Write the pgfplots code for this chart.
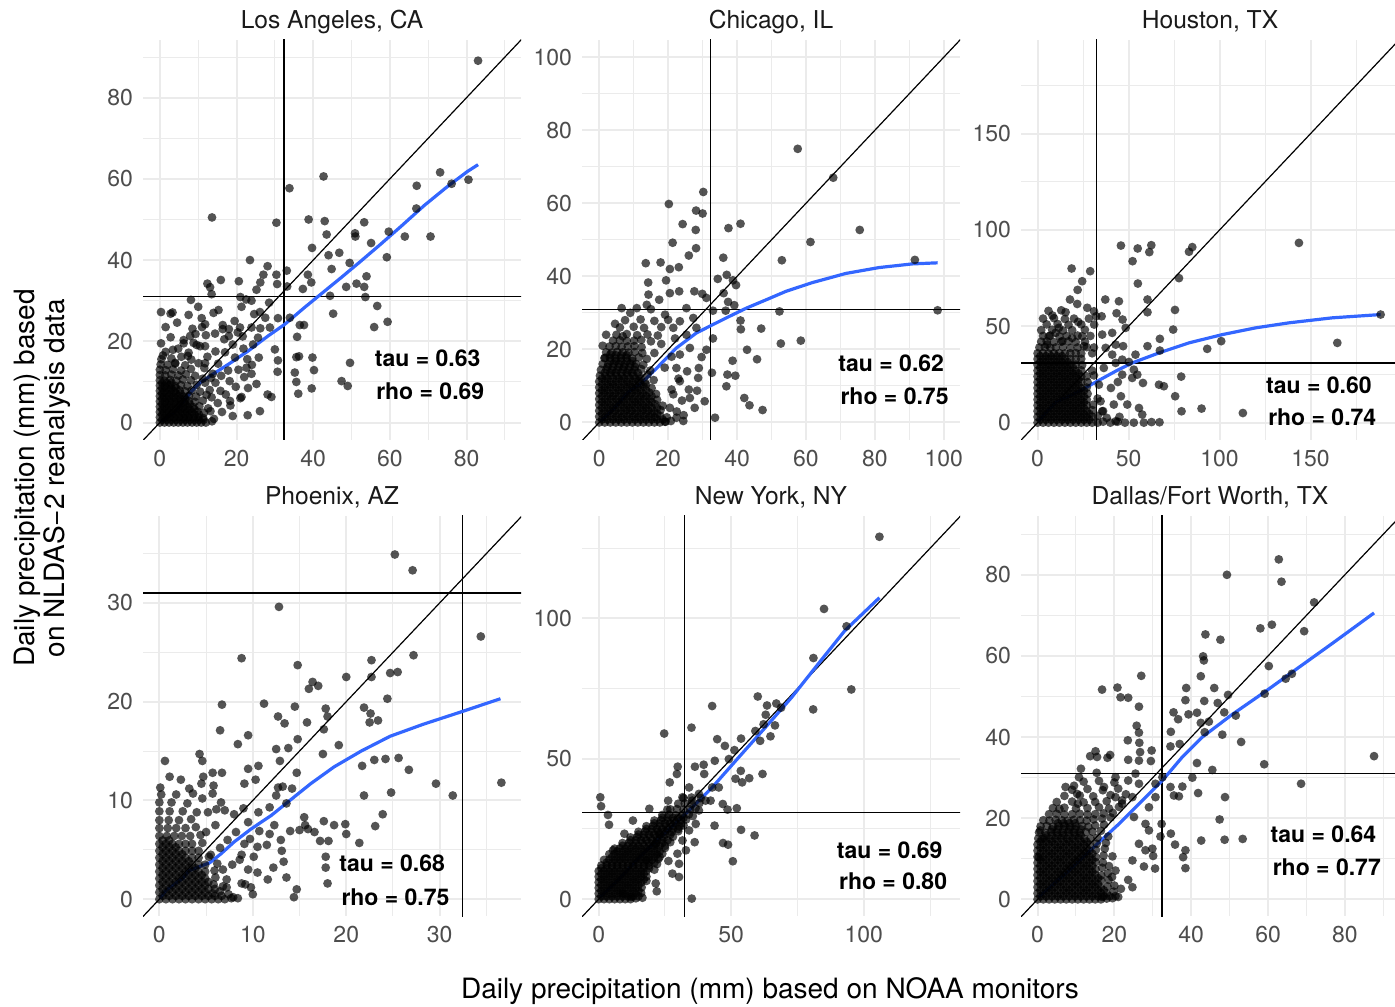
\documentclass[border=0pt]{standalone}
\usepackage{fontspec}
\setmainfont{TeX Gyre Heros}
\usepackage{pgfplots}
\pgfplotsset{compat=1.18}
\definecolor{gridc}{HTML}{EBEBEB}
\definecolor{tickc}{HTML}{4D4D4D}
\definecolor{stripc}{HTML}{1A1A1A}
\definecolor{smoothc}{HTML}{3366FF}
\pgfplotsset{
  facet/.style={
    scale only axis, width=189pt, height=200pt, anchor=south west,
    axis line style={draw=none}, tick style={draw=none},
    major tick length=0pt, minor tick length=0pt,
    grid=both, minor tick num=1,
    major grid style={gridc, line width=1pt},
    minor grid style={gridc, line width=0.5pt},
    tick label style={font=\fontsize{11.5}{13}\selectfont, text=tickc},
    /pgf/number format/assume math mode=true,
    xticklabel style={yshift=-1.5pt}, yticklabel style={xshift=-1.5pt},
    every axis title shift=0pt,
    title style={font=\fontsize{12.3}{14}\selectfont, text=stripc, at={(0.5,1)}, anchor=base, yshift=5.5pt},
  },
  pts/.style={only marks, mark=*, mark size=2.2pt, mark options={draw opacity=0, fill=black, fill opacity=0.67}},
  refl/.style={black, line width=0.6pt, no marks},
  sm/.style={smoothc, line width=1.6pt, no marks},
}
\tikzset{ann/.style={font=\bfseries\fontsize{11.5}{13}\selectfont, anchor=center, inner sep=0pt}}
\begin{document}
\begin{tikzpicture}
\useasboundingbox (0,0) rectangle (697.5pt,503pt);
% ---------------- Los Angeles
\begin{axis}[facet, at={(71.5pt,283pt)}, xmin=-4.4, xmax=94.2, ymin=-4.3, ymax=94.2,
  xtick={0,20,...,100}, ytick={0,20,...,100}, title={Los Angeles, CA}]
\addplot[pts] coordinates {
(83.0,89.1) (42.7,60.6) (33.8,57.7) (13.6,50.5) (30.4,49.2) (38.8,50.0) (43.0,49.6) (43.5,46.3) (53.3,49.3) (50.9,46.6) (51.0,45.8) (59.7,47.0) (63.9,45.8) (70.6,45.8) (55.1,44.2) (67.0,58.3) (73.1,61.6) (76.1,58.8) (80.5,59.8) (66.9,52.7) (39.7,43.0) (44.0,41.2) (46.8,41.8) (59.2,40.7) (49.5,39.3) (44.8,37.8) (53.9,36.0) (51.3,34.2) (48.6,33.4) (53.3,33.4) (53.6,30.9) (44.4,31.2) (56.7,28.7) (59.4,24.8) (55.9,23.5) (45.2,26.8) (38.6,36.4) (39.5,34.5) (37.3,32.9) (33.1,37.4) (33.2,33.5) (30.6,34.1) (30.4,36.4) (28.1,38.5) (27.0,36.4) (26.2,34.5) (23.5,40.0) (20.6,34.8) (15.9,35.1) (12.4,34.2) (13.1,33.3) (13.5,31.6) (8.1,30.2) (0.3,27.2) (2.8,26.8) (25.2,32.7) (22.5,30.3) (21.0,30.9) (21.3,28.5) (23.9,30.0) (24.6,26.7) (26.1,27.2) (28.5,29.5) (27.5,25.8) (30.8,25.7) (33.9,25.8) (15.3,27.7) (10.9,25.7) (11.8,24.2) (8.5,23.1) (7.9,21.3) (14.4,21.9) (16.4,23.0) (18.0,23.0) (18.0,21.3) (20.9,23.4) (21.6,21.2) (23.9,23.4) (25.6,20.9) (28.7,23.4) (36.5,24.0) (37.6,24.0) (35.8,21.1) (30.0,18.0) (30.8,15.3) (30.7,12.5) (35.6,16.1) (36.3,16.3) (39.8,16.0) (40.2,12.9) (49.6,14.7) (35.2,12.3) (35.6,10.0) (39.6,8.4) (36.1,7.1) (47.4,10.2) (49.0,9.0) (25.8,16.0) (22.6,13.5) (23.9,12.0) (25.2,9.5) (28.1,6.9) (29.1,6.3) (26.1,2.8) (22.9,1.8) (21.3,6.3) (18.3,5.3) (3.4,17.9) (0.8,16.5) (4.0,14.7) (6.2,19.5) (9.6,19.1) (11.8,18.8) (7.3,16.4)
(0,0) (1.2,0) (2.4,0) (3.6,0) (4.8,0) (6,0) (7.2,0) (8.4,0) (9.6,0) (10.8,0) (12,0) (13.6,0.3)
(0,1.3) (1.3,1.2) (2.5,1.3) (3.7,1.2) (5,1.3) (6.2,1.2) (7.4,1.3) (8.7,1.2) (10,1.3) (11.3,1.1)
(0,2.6) (1.1,2.5) (2.3,2.6) (3.5,2.5) (4.7,2.6) (5.9,2.5) (7.1,2.6) (8.4,2.5) (9.8,2.7) (11.5,2.4)
(0,3.9) (1.2,3.8) (2.4,3.9) (3.6,3.8) (4.9,3.9) (6.1,3.8) (7.3,3.9) (8.7,3.8) (10.3,4.0) (12.6,3.5)
(0,5.2) (1.3,5.1) (2.5,5.2) (3.8,5.1) (5,5.2) (6.3,5.1) (7.6,5.3) (9.1,5.1) (11.2,5.4)
(0,6.5) (1.1,6.4) (2.4,6.5) (3.6,6.4) (4.9,6.6) (6.2,6.4) (7.6,6.6) (9.4,6.4) (12.2,6.8)
(0,7.8) (1.2,7.7) (2.5,7.9) (3.8,7.7) (5.2,7.9) (6.6,7.7) (8.3,7.9) (10.5,7.6)
(0,9.1) (1.3,9) (2.6,9.2) (4,9) (5.5,9.2) (7.2,9.0) (9.6,9.3)
(0,10.4) (1.2,10.3) (2.7,10.5) (4.3,10.3) (6,10.6) (8.1,10.4) (11.2,10.8)
(0,11.7) (1.4,11.6) (3,11.8) (4.8,11.6) (6.8,11.9) (9.2,11.5)
(0,13) (1.5,12.9) (3.4,13.1) (5.5,12.8) (8.1,13.2) (11.6,13.4)
(0.2,14.3) (2,14.2) (4,14.5) (6.6,14.1) (10.1,14.6)
(0.4,15.6) (3,15.8) (5.6,16.2) (8.2,15.5)
(1.5,17.4) (4.8,18.2) (7.5,17.2) (0.3,19.5) (2.8,21) (6.2,20.3) (9.3,21.8) (1.5,23.5) (4.5,24.6)
(13,8) (14.5,9.8) (16,11.5) (17.8,12.8) (15.2,14.5) (12.4,16.2) (17,17.3) (19.6,16) (19,19.2) (21.8,18.2) (13.2,2.8) (15.1,4.8) (17.2,6.9) (19.8,8.8) (22,11.2) (24,14.2) (14.1,0.9) (16.2,2.6) (19,1.6) (10.5,18.8) (12,21.5) (16.4,24) (19.5,25) (13.8,12) (11.8,14.6) (14.5,17.5) (20.3,22.2) (24.3,19.2) (26.2,23.2) (13.5,6.2) (15.8,7.8) (18.2,10.2) (11.8,9.8) (13.3,11.0) (20.5,13) (22.8,15.6) (18.4,4.2) (21,6) (23,8.5) (16.8,20.5) (8.8,19.6) (11,23.5) (7.5,26.5) (14,27) (3.3,27.1) (10,28.5)
};
\addplot[pts] coordinates {
(0.6,0.65) (1.8,0.65) (3.0,0.65) (4.2,0.65) (5.4,0.65) (6.6,0.65) (7.8,0.65) (9.0,0.65) (10.2,0.65) (11.4,0.65)
(0.6,1.95) (1.8,1.95) (3.0,1.95) (4.2,1.95) (5.4,1.95) (6.6,1.95) (7.8,1.95) (9.0,1.95) (10.2,1.95)
(0.6,3.25) (1.8,3.25) (3.0,3.25) (4.2,3.25) (5.4,3.25) (6.6,3.25) (7.8,3.25) (9.0,3.25)
(0.6,4.55) (1.8,4.55) (3.0,4.55) (4.2,4.55) (5.4,4.55) (6.6,4.55) (7.8,4.55)
(0.6,5.85) (1.8,5.85) (3.0,5.85) (4.2,5.85) (5.4,5.85) (6.6,5.85)
(0.6,7.15) (1.8,7.15) (3.0,7.15) (4.2,7.15) (5.4,7.15)
(0.6,8.45) (1.8,8.45) (3.0,8.45) (4.2,8.45)
(0.6,9.75) (1.8,9.75) (3.0,9.75)
};
\addplot[refl] coordinates {(-10,-10) (210,210)};
\addplot[refl] coordinates {(32.4,-10) (32.4,210)};
\addplot[refl] coordinates {(-10,31) (210,31)};
\addplot[sm] coordinates {(0.3,0.3) (1.8,1.3) (3.5,2.2) (4.8,3.6) (6.6,5.7) (8.3,7.7) (10.5,9.8) (13.5,11.7) (17.8,14.3) (23.0,17.6) (28.2,21.3) (32.6,24.2) (37.7,28.3) (42.5,32.0) (47.3,35.7) (52.5,39.8) (57.7,44.0) (62.9,48.3) (68.9,53.4) (75.0,58.1) (80.2,61.8) (83.0,63.5)};
\node[ann] at (rel axis cs:0.753,0.204) {tau = 0.63};
\node[ann] at (rel axis cs:0.760,0.1225) {rho = 0.69};
\end{axis}
% ---------------- Chicago
\begin{axis}[facet, at={(291pt,283pt)}, xmin=-5, xmax=104.7, ymin=-4.8, ymax=104.7,
  xtick={0,20,...,120}, ytick={0,20,...,120}, title={Chicago, IL}]
\addplot[pts] coordinates {
(57.6,74.9) (67.9,67.0) (75.6,52.7) (61.3,49.4) (53.0,44.4) (91.6,44.5) (98.2,30.7) (52.3,30.4) (52.7,21.6) (58.5,22.4) (47.0,25.7) (41.0,27.9) (41.1,25.5) (42.9,19.9) (45.8,17.3) (38.7,16.9) (37.2,13.1) (39.5,12.8) (36.9,9.9) (42.1,6.7) (43.6,4.7) (47.4,3.4) (33.6,1.3) (30.2,63.1) (20.2,59.8) (28.1,58.0) (30.0,57.2) (24.2,54.3) (28.0,52.7) (37.5,53.2) (41.0,54.4) (21.3,49.2) (28.1,47.7) (26.0,45.7) (36.0,45.1) (13.5,43.6) (17.8,43.8) (20.5,42.0) (23.1,42.5) (34.4,39.3) (37.0,40.4) (39.7,37.6) (38.8,38.9) (14.2,38.3) (19.4,38.9) (14.3,35.0) (17.4,33.6) (20.5,35.4) (23.2,35.9) (27.6,35.9) (29.9,35.2) (31.1,34.1) (36.1,35.4) (37.4,33.0) (39.2,32.1) (36.7,30.6) (33.0,30.6) (6.5,31.3) (10.9,31.3) (13.8,32.2) (4.6,27.0) (6.8,23.6) (33.0,23.0) (31.1,19.9) (29.7,17.9) (28.9,14.9) (32.7,13.6) (28.7,12.2) (28.4,8.7) (30.6,5.8) (27.7,4.0) (24.4,0.4) (22.4,1.3) (19.1,0.2) (26.3,20.4) (25.3,24.0) (23.4,27.7) (28.2,25.9) (27.3,28.6) (25.3,31.3) (19.1,29.5) (21.5,25.9) (23.4,18.6) (22.4,14.9) (23.4,11.3) (21.5,7.7) (26.3,6.7) (20.5,4.0) (3.2,18.6) (1.7,17.7)
(0,0) (1.6,0) (3.2,0) (4.8,0) (6.4,0) (8,0) (9.6,0) (11.2,0) (12.8,0) (14.4,0) (16,0) (17.6,0) (19.2,0.2) (20.8,0.4)
(0,1.6) (1.7,1.5) (3.3,1.7) (4.9,1.6) (6.5,1.5) (8.1,1.7) (9.7,1.6) (11.3,1.5) (12.9,1.7) (14.5,1.6) (16.1,1.5) (17.7,1.8) (19.6,1.4)
(0,3.2) (1.5,3.1) (3.1,3.3) (4.7,3.2) (6.3,3.1) (7.9,3.3) (9.5,3.2) (11.1,3.1) (12.7,3.3) (14.3,3.2) (15.9,3.0) (17.8,3.4)
(0,4.8) (1.6,4.9) (3.2,4.7) (4.8,4.8) (6.4,4.9) (8,4.7) (9.6,4.8) (11.2,4.9) (12.8,4.7) (14.4,4.8) (16.2,5.0) (18.4,4.6)
(0,6.4) (1.7,6.3) (3.3,6.5) (4.9,6.4) (6.5,6.3) (8.1,6.5) (9.7,6.4) (11.3,6.3) (12.9,6.5) (14.6,6.4) (16.8,6.2)
(0,8) (1.5,8.1) (3.1,7.9) (4.7,8) (6.3,8.1) (7.9,7.9) (9.5,8) (11.1,8.1) (12.7,7.9) (14.5,8.2) (16.5,7.8)
(0,9.6) (1.6,9.5) (3.2,9.7) (4.8,9.6) (6.4,9.5) (8,9.7) (9.6,9.6) (11.2,9.5) (12.9,9.8) (15.2,9.4)
(0,11.2) (1.7,11.3) (3.3,11.1) (4.9,11.2) (6.5,11.3) (8.1,11.1) (9.7,11.2) (11.4,11.3) (13.3,11.0) (15.8,11.6)
(0.2,12.8) (1.8,12.7) (3.4,12.9) (5,12.8) (6.6,12.7) (8.2,12.9) (9.9,12.8) (11.7,12.6) (14,13.1)
(0.5,14.4) (2.1,14.5) (3.7,14.3) (5.3,14.4) (6.9,14.5) (8.5,14.3) (10.2,14.4) (12.2,14.6) (14.8,14.2)
(1,16) (2.6,15.9) (4.2,16.1) (5.8,16) (7.4,15.9) (9,16.1) (10.7,16) (12.8,15.8)
(1.5,17.6) (3.1,17.7) (4.7,17.5) (6.3,17.6) (7.9,17.7) (9.6,17.5) (11.5,17.8) (13.8,17.4)
(2,19.2) (3.6,19.1) (5.2,19.3) (6.8,19.2) (8.5,19.1) (10.3,19.3) (12.5,19.0)
(3,20.8) (4.8,20.9) (6.5,20.7) (8.3,20.8) (10.2,20.9) (12.3,20.6)
(4,22.4) (6,22.5) (8,22.3) (10.1,22.4) (12.2,22.6) (15,22.2)
(5,24) (8,24.2) (11,23.9) (14,24.1) (17,23.8)
(6,26) (10,26.2) (13,25.9) (18,26.1)
(7.5,28) (12,28.2) (16,27.8) (20,28.1)
(22.5,3) (24,6) (21,9) (23,12) (19,15) (21,18) (18,21.5) (16,19) (25.5,14) (26,9) (24.5,2) (22,23) (9,30) (15,31) (2,24) (1,21)
};
\addplot[pts] coordinates {
(0.8,0.8) (2.4,0.8) (4,0.8) (5.6,0.8) (7.2,0.8) (8.8,0.8) (10.4,0.8) (12,0.8) (13.6,0.8) (15.2,0.8) (16.8,0.8) (18.4,0.8)
(0.8,2.4) (2.4,2.4) (4,2.4) (5.6,2.4) (7.2,2.4) (8.8,2.4) (10.4,2.4) (12,2.4) (13.6,2.4) (15.2,2.4) (16.8,2.4)
(0.8,4) (2.4,4) (4,4) (5.6,4) (7.2,4) (8.8,4) (10.4,4) (12,4) (13.6,4) (15.2,4) (16.8,4)
(0.8,5.6) (2.4,5.6) (4,5.6) (5.6,5.6) (7.2,5.6) (8.8,5.6) (10.4,5.6) (12,5.6) (13.6,5.6) (15.2,5.6)
(0.8,7.2) (2.4,7.2) (4,7.2) (5.6,7.2) (7.2,7.2) (8.8,7.2) (10.4,7.2) (12,7.2) (13.6,7.2) (15.2,7.2)
(0.8,8.8) (2.4,8.8) (4,8.8) (5.6,8.8) (7.2,8.8) (8.8,8.8) (10.4,8.8) (12,8.8) (13.6,8.8)
(0.8,10.4) (2.4,10.4) (4,10.4) (5.6,10.4) (7.2,10.4) (8.8,10.4) (10.4,10.4) (12,10.4) (13.6,10.4)
(0.8,12) (2.4,12) (4,12) (5.6,12) (7.2,12) (8.8,12) (10.4,12) (12,12)
(1.6,13.6) (3.2,13.6) (4.8,13.6) (6.4,13.6) (8,13.6) (9.6,13.6) (11.2,13.6)
(2.4,15.2) (4,15.2) (5.6,15.2) (7.2,15.2) (8.8,15.2) (10.4,15.2)
(3.2,16.8) (4.8,16.8) (6.4,16.8) (8,16.8) (9.6,16.8)
(4.8,18.4) (6.4,18.4) (8,18.4)
};
\addplot[refl] coordinates {(-10,-10) (210,210)};
\addplot[refl] coordinates {(32.4,-10) (32.4,210)};
\addplot[refl] coordinates {(-10,31) (210,31)};
\addplot[sm] coordinates {(0.5,0.4) (4.1,3.6) (8.5,8.4) (11.8,10.4) (16.7,14.9) (22.4,20.4) (28.2,24.5) (33.0,26.8) (37.9,29.1) (42.7,31.3) (48.5,33.6) (54.2,35.9) (61.9,38.3) (71.6,40.8) (81.2,42.4) (90.8,43.4) (98.2,43.7)};
\node[ann] at (rel axis cs:0.818,0.192) {tau = 0.62};
\node[ann] at (rel axis cs:0.827,0.11) {rho = 0.75};
\end{axis}
% ---------------- Houston
\begin{axis}[facet, at={(510.5pt,283pt)}, xmin=-9.1, xmax=198.6, ymin=-9, ymax=198.6,
  xtick={0,50,...,200}, ytick={0,50,...,200}, title={Houston, TX}]
\addplot[pts] coordinates {
(143.6,93.3) (188.5,56.1) (164.7,41.4) (100.9,42.3) (93.2,38.3) (112.8,5.0) (85.0,91.1) (83.2,88.7) (77.7,75.0) (75.5,58.5) (74.5,48.3) (67.2,43.5) (67.2,37.4) (60.4,39.7) (78.9,23.9) (75.6,13.7) (79.1,5.9) (90.1,7.3) (66.7,19.7) (69.4,18.9) (62.6,0.3) (67.0,0.2) (58.4,0) (57.5,4.2) (55.7,7.6) (45.8,91.9) (55.0,90.4) (62.5,92.1) (61.4,88.5) (52.2,83.8) (55.1,72.2) (60.4,63.9) (60.4,57.3) (44.7,63.0) (37.2,63.9) (43.4,56.8) (46.7,53.5) (18.7,80.0) (28.9,78.6) (24.5,73.4) (22.0,68.9) (17.8,63.9) (21.8,61.6) (15.4,57.3) (8.2,55.6) (31.0,57.8) (32.2,55.2) (35.2,55.2) (27.3,59.6) (22.3,52.3) (28.2,54.0) (31.1,50.9) (48.4,49.2) (41.0,46.6) (35.5,45.7) (42.9,40.5) (47.0,39.7) (53.8,35.3) (50.2,31.5) (46.5,32.7) (52.9,27.5) (54.8,24.9) (57.9,20.6) (52.0,23.2) (46.5,24.9) (44.1,21.1) (40.3,18.0) (45.8,13.7) (41.9,9.4) (49.3,9.4) (52.9,0) (42.9,0.7) (35.5,5.9) (34.6,11.1) (33.7,19.7) (36.4,28.4) (41.0,35.3) (37.4,38.8) (42.9,31.0) (6.2,44.8) (9.9,46.6) (11.7,49.2) (5.3,40.5) (13.6,42.3) (19.0,44.0) (24.5,44.8) (25.5,39.7)
(0,0) (3,0) (6,0) (9,0) (12,0) (15,0) (18,0) (21,0) (24,0) (27,0) (30,0) (33,0) (36,0.5) (40,0) (44,0.5) (48,0)
(0,3) (3,3.2) (6,2.9) (9,3) (12,3.1) (15,2.9) (18,3) (21,3.2) (24,2.9) (27,3) (30,3.1) (33,3.5) (38,2.5) (45,3)
(0,6) (3,6.1) (6,5.9) (9,6) (12,6.2) (15,5.9) (18,6) (21,6.1) (24,5.9) (27,6) (30,6.5) (36,6)
(0,9) (3,8.9) (6,9.1) (9,9) (12,8.9) (15,9.1) (18,9) (21,8.9) (24,9.1) (27,9) (30.5,9.3)
(0,12) (3,12.1) (6,11.9) (9,12) (12,12.1) (15,11.9) (18,12) (21,12.1) (24,11.9) (27,12) (33,12.5)
(0,15) (3,14.9) (6,15.1) (9,15) (12,14.9) (15,15.1) (18,15) (21,14.9) (24,15.1) (27.5,15)
(0,18) (3,18.1) (6,17.9) (9,18) (12,18.1) (15,17.9) (18,18) (21,18.1) (24,17.9) (27,18.2)
(0,21) (3,20.9) (6,21.1) (9,21) (12,20.9) (15,21.1) (18,21) (21,20.9) (24,21.1) (27.5,21)
(0,24) (3,24.1) (6,23.9) (9,24) (12,24.1) (15,23.9) (18,24) (21,24.1) (24,23.9) (27,24) (31,24.5)
(0,27) (3,26.9) (6,27.1) (9,27) (12,26.9) (15,27.1) (18,27) (21,26.9) (24,27.1) (30,27)
(0,30) (3,30.1) (6,29.9) (9,30) (12,30.1) (15,29.9) (18,30) (21,30.1) (24.5,29.9)
(0,33) (3,32.9) (6,33.1) (9,33) (12,32.9) (15,33.1) (18,33) (21,32.9) (24,33.1)
(0,36) (3,36.1) (6,35.9) (9,36) (12,36.1) (15,35.9) (18,36) (21,36.1) (24,35.9) (30,36)
(1,39) (4,39.2) (7,38.8) (10,39) (14,39.2) (18,38.8) (22,39) (27,39.2) (31,39)
(2,42) (5,42.2) (9,41.8) (13,42) (17,42.2) (21,41.8) (26,42)
(3,45) (7,45.2) (12,44.8) (16,45) (22,45.2) (29,45)
(2,48) (8,48.2) (14,47.8) (19,48) (26,48.2)
(5,51) (11,51.2) (17,50.8) (24,51)
(3,54) (9,54.2) (15,53.8) (20,54)
(6,58) (13,58.3)
};
\addplot[pts] coordinates {
(1.5,1.5) (4.5,1.5) (7.5,1.5) (10.5,1.5) (13.5,1.5) (16.5,1.5) (19.5,1.5) (22.5,1.5) (25.5,1.5) (28.5,1.5)
(1.5,4.5) (4.5,4.5) (7.5,4.5) (10.5,4.5) (13.5,4.5) (16.5,4.5) (19.5,4.5) (22.5,4.5) (25.5,4.5) (28.5,4.5)
(1.5,7.5) (4.5,7.5) (7.5,7.5) (10.5,7.5) (13.5,7.5) (16.5,7.5) (19.5,7.5) (22.5,7.5) (25.5,7.5)
(1.5,10.5) (4.5,10.5) (7.5,10.5) (10.5,10.5) (13.5,10.5) (16.5,10.5) (19.5,10.5) (22.5,10.5) (25.5,10.5)
(1.5,13.5) (4.5,13.5) (7.5,13.5) (10.5,13.5) (13.5,13.5) (16.5,13.5) (19.5,13.5) (22.5,13.5) (25.5,13.5)
(1.5,16.5) (4.5,16.5) (7.5,16.5) (10.5,16.5) (13.5,16.5) (16.5,16.5) (19.5,16.5) (22.5,16.5) (25.5,16.5)
(1.5,19.5) (4.5,19.5) (7.5,19.5) (10.5,19.5) (13.5,19.5) (16.5,19.5) (19.5,19.5) (22.5,19.5)
(1.5,22.5) (4.5,22.5) (7.5,22.5) (10.5,22.5) (13.5,22.5) (16.5,22.5) (19.5,22.5) (22.5,22.5)
(1.5,25.5) (4.5,25.5) (7.5,25.5) (10.5,25.5) (13.5,25.5) (16.5,25.5) (19.5,25.5) (22.5,25.5)
(1.5,28.5) (4.5,28.5) (7.5,28.5) (10.5,28.5) (13.5,28.5) (16.5,28.5) (19.5,28.5)
(1.5,31.5) (4.5,31.5) (7.5,31.5) (10.5,31.5) (13.5,31.5) (16.5,31.5)
(1.5,34.5) (4.5,34.5) (7.5,34.5) (10.5,34.5) (13.5,34.5)
};
\addplot[refl] coordinates {(-20,-20) (250,250)};
\addplot[refl] coordinates {(32.4,-20) (32.4,250)};
\addplot[refl] coordinates {(-20,31) (250,31)};
\addplot[sm] coordinates {(0.4,0.7) (4.4,5.0) (9.9,10.6) (17.2,13.7) (24.5,17.1) (32.8,21.5) (42.9,26.7) (52.0,31.0) (66.7,36.2) (83.2,41.4) (101.5,45.7) (119.8,49.2) (138.1,51.8) (161.9,54.4) (188.5,56.1)};
\node[ann] at (rel axis cs:0.788,0.1375) {tau = 0.60};
\node[ann] at (rel axis cs:0.797,0.056) {rho = 0.74};
\end{axis}
% ---------------- Phoenix
\begin{axis}[facet, at={(71.5pt,45pt)}, xmin=-1.75, xmax=38.7, ymin=-1.7, ymax=38.8,
  xtick={0,10,...,40}, ytick={0,10,...,40}, title={Phoenix, AZ}]
\addplot[pts] coordinates {
(25.2,34.9) (27.1,33.3) (12.8,29.6) (34.4,26.6) (36.6,11.8) (31.4,10.5) (29.6,11.7) (27.2,24.7) (22.7,24.2) (8.8,24.4) (14.8,23.7) (20.0,22.5) (22.7,22.5) (24.7,22.9) (25.5,23.0) (16.4,22.0) (17.0,21.6) (16.0,21.3) (24.4,20.3) (6.7,19.7) (11.2,19.8) (14.5,19.5) (17.8,19.3) (21.9,19.4) (22.6,18.8) (18.0,18.5) (12.7,18.5) (13.4,17.8) (15.8,17.9) (22.5,17.9) (23.4,18.1) (17.6,17.2) (6.5,17.1) (9.5,16.6) (8.4,15.7) (14.8,16.2) (19.2,15.6) (13.8,15.3) (12.5,15.2) (12.9,14.0) (17.5,14.7) (4.3,14.7) (4.6,14.0) (0.6,14.0) (21.7,13.5) (23.0,14.1) (24.2,14.2) (25.6,14.3) (26.7,13.1) (9.5,13.2) (10.6,13.5) (6.7,12.8) (5.7,12.8) (4.7,12.4) (2.3,12.1) (1.1,12.4) (0.1,11.3) (14.7,12.8) (9.1,11.7) (10.3,12.1) (13.2,11.4) (14.2,11.2) (12.5,10.5) (12.7,11.3) (4.5,11.7) (5.7,10.7) (3.6,10.7) (21.9,10.5) (24.8,10.8) (13.6,9.7) (11.8,9.3) (10.6,8.8) (9.0,9.2) (6.1,9.1) (7.0,9.0) (15.5,8.3) (15.6,7.5) (17.6,7.9) (18.7,7.5) (19.9,7.6) (23.9,8.6) (23.1,7.4) (20.0,6.6) (18.1,5.9) (17.2,5.9) (15.0,7.0) (14.0,6.9) (16.6,6.8) (15.9,7.1) (21.4,5.7) (12.3,7.5) (13.0,6.0) (11.8,6.6) (11.5,5.5) (13.1,4.9) (13.3,3.8) (12.2,3.2) (17.8,4.3) (17.8,3.2) (18.0,1.6) (14.7,1.0) (14.4,0.2) (11.6,2.0) (13.6,2.2) (10.5,2.7) (10.1,4.3) (10.5,5.3) (10.7,6.9) (9.7,6.1) (8.6,4.0) (7.9,0.2) (7.2,1.2) (8.8,1.6) (9.8,1.2) (9.1,5.6)
(0,0) (0.7,0) (1.4,0) (2.1,0) (2.8,0) (3.5,0) (4.2,0) (4.9,0) (5.6,0) (6.3,0) (7,0) (7.7,0.1) (8.4,0.1)
(0,0.7) (0.7,0.7) (1.4,0.7) (2.1,0.7) (2.8,0.7) (3.5,0.7) (4.2,0.7) (4.9,0.7) (5.7,0.6) (6.5,0.8) (7.4,0.5)
(0,1.4) (0.7,1.4) (1.4,1.4) (2.1,1.4) (2.8,1.4) (3.5,1.4) (4.2,1.4) (4.9,1.4) (5.8,1.5) (6.8,1.3)
(0,2.1) (0.7,2.1) (1.4,2.1) (2.1,2.1) (2.8,2.1) (3.5,2.1) (4.2,2.1) (4.9,2.1) (6.0,2.2) (7.2,2.0)
(0,2.8) (0.7,2.8) (1.4,2.8) (2.1,2.8) (2.8,2.8) (3.5,2.8) (4.2,2.8) (4.9,2.8) (5.9,2.9)
(0,3.5) (0.7,3.5) (1.4,3.5) (2.1,3.5) (2.8,3.5) (3.5,3.5) (4.2,3.5) (4.9,3.5) (6.2,3.6)
(0,4.2) (0.7,4.2) (1.4,4.2) (2.1,4.2) (2.8,4.2) (3.5,4.2) (4.2,4.2) (5.3,4.3)
(0,4.9) (0.7,4.9) (1.4,4.9) (2.1,4.9) (2.8,4.9) (3.5,4.9) (4.2,4.9)
(0,5.6) (0.7,5.6) (1.4,5.6) (2.1,5.6) (2.8,5.6) (3.5,5.6) (4.6,5.7)
(0,6.4) (0.8,6.4) (1.6,6.4) (2.4,6.4) (3.3,6.4) (4.4,6.5)
(0,7.2) (0.9,7.2) (1.8,7.2) (2.8,7.2) (3.9,7.3)
(0,8.0) (1.0,8.0) (2.1,8.0) (3.4,8.1)
(0,8.9) (1.1,8.9) (2.5,8.9) (4.0,8.8)
(0,9.8) (1.3,9.8) (3.0,9.7)
(0.2,10.6) (1.8,10.6)
(5.5,4.5) (6.5,5.2) (7.3,6.0) (8.2,6.8) (6.0,7.5) (5.0,6.8) (7.8,3.5) (8.8,4.5) (9.5,3.0) (9.2,1.5) (10,0.5) (6.8,3.0) (5.2,8.8) (4.6,10.2) (6.6,9.8) (8.0,8.6) (9.5,7.8) (3.2,11.2) (5.8,11.5)
};
\addplot[pts] coordinates {
(0.35,0.35) (1.05,0.35) (1.75,0.35) (2.45,0.35) (3.15,0.35) (3.85,0.35) (4.55,0.35) (5.25,0.35) (5.95,0.35) (6.65,0.35)
(0.35,1.05) (1.05,1.05) (1.75,1.05) (2.45,1.05) (3.15,1.05) (3.85,1.05) (4.55,1.05) (5.25,1.05) (5.95,1.05)
(0.35,1.75) (1.05,1.75) (1.75,1.75) (2.45,1.75) (3.15,1.75) (3.85,1.75) (4.55,1.75) (5.25,1.75)
(0.35,2.45) (1.05,2.45) (1.75,2.45) (2.45,2.45) (3.15,2.45) (3.85,2.45) (4.55,2.45)
(0.35,3.15) (1.05,3.15) (1.75,3.15) (2.45,3.15) (3.15,3.15) (3.85,3.15)
(0.35,3.85) (1.05,3.85) (1.75,3.85) (2.45,3.85) (3.15,3.85)
(0.35,4.55) (1.05,4.55) (1.75,4.55) (2.45,4.55)
(0.35,5.25) (1.05,5.25) (1.75,5.25)
(0.35,5.95) (1.05,5.95)
};
\addplot[refl] coordinates {(-10,-10) (60,60)};
\addplot[refl] coordinates {(32.4,-10) (32.4,60)};
\addplot[refl] coordinates {(-10,31) (60,31)};
\addplot[sm] coordinates {(0.1,0.1) (0.7,0.9) (1.6,1.5) (2.5,2.1) (3.2,2.9) (4.3,3.3) (5.4,3.7) (6.6,4.6) (8.0,5.8) (9.8,7.1) (12.0,8.5) (13.7,9.8) (16.2,11.7) (18.7,13.4) (21.6,15.0) (24.7,16.5) (28.2,17.7) (32.4,19.0) (36.5,20.3)};
\node[ann] at (rel axis cs:0.659,0.132) {tau = 0.68};
\node[ann] at (rel axis cs:0.668,0.048) {rho = 0.75};
\end{axis}
% ---------------- New York
\begin{axis}[facet, at={(291pt,45pt)}, xmin=-6.3, xmax=136.3, ymin=-6, ymax=136.5,
  xtick={0,50,...,150}, ytick={0,50,...,150}, title={New York, NY}]
\addplot[pts] coordinates {
(105.9,129.1) (85.0,103.4) (93.5,97.2) (81.0,85.9) (95.3,74.7) (80.9,67.6) (60.0,72.2) (63.5,69.0) (67.0,69.7) (68.8,68.2) (63.0,65.7) (66.5,61.9) (64.8,58.0) (62.2,62.3) (59.1,59.9) (42.8,68.8) (35.0,61.1) (24.7,59.0) (44.7,57.0) (47.6,54.6) (53.7,57.2) (51.2,53.1) (60.9,56.4) (43.8,49.3) (61.8,44.6) (56.8,43.1) (54.1,41.6) (51.6,42.9) (53.6,45.7) (49.1,49.9) (29.8,47.2) (29.5,44.6) (26.8,41.6) (36.3,47.2) (39.6,47.9) (39.8,44.6) (0.6,36.3) (0.9,33.1) (3.5,30.0) (3.9,26.5) (26.2,35.1) (25.9,31.9) (19.1,32.2) (46.8,33.9) (52.1,32.4) (48.6,31.9) (43.7,26.2) (53.7,24.7) (58.8,22.7) (46.9,20.0) (48.8,19.4) (50.6,13.5) (36.2,20.3) (32.9,17.4) (29.7,16.2) (26.3,13.6) (30.3,12.6) (27.8,9.1) (30.3,7.9) (21.5,5.6) (21.9,2.8) (35.1,0.2) (12.2,0.8) (9.1,2.0) (37.8,31.6) (40.3,35.1) (42.8,39.8) (42.2,35.1) (45.3,39.8) (37.8,37.5) (35.3,35.1) (34.1,39.8) (31.6,36.3) (36.6,26.8) (34.1,24.5) (31.6,20.9) (22.8,23.3) (21.6,19.7) (17.9,13.8) (9.7,23.3) (5.4,17.4) (12.9,28.0)
(0,0) (2,0) (4,0) (6,0) (8,0) (10,0) (12,0) (14,0.3) (16.5,0.5)
(0,2) (2,2.1) (4,1.9) (6,2) (8,2.1) (10,1.9) (12,2) (14,2.1) (16,2.2)
(0,4) (2,3.9) (4,4.1) (6,4) (8,3.9) (10,4.1) (12,4) (14,3.9) (16.2,4.2)
(0,6) (2,6.1) (4,5.9) (6,6) (8,6.1) (10,5.9) (12,6) (14,6.1) (16,5.9) (18,6.5)
(0,8) (2,7.9) (4,8.1) (6,8) (8,7.9) (10,8.1) (12,8) (14,7.9) (16,8.1) (18,8)
(0,10) (2,10.1) (4,9.9) (6,10) (8,10.1) (10,9.9) (12,10) (14,10.1) (16,9.9) (18,10) (21,10.5)
(1,12) (3,12.1) (5,11.9) (7,12) (9,12.1) (11,11.9) (13,12) (15,12.1) (17,11.9) (19,12) (22,12.5)
(2,14) (4,14.1) (6,13.9) (8,14) (10,14.1) (12,13.9) (14,14) (16,14.1) (18,13.9) (20,14) (22.5,14.3)
(4,16) (6,16.1) (8,15.9) (10,16) (12,16.1) (14,15.9) (16,16) (18,16.1) (20,15.9) (22,16) (24,16.2)
(6,18) (8,18.1) (10,17.9) (12,18) (14,18.1) (16,17.9) (18,18) (20,18.1) (22,17.9) (25,18.2)
(9,20) (11.5,20.1) (14,19.9) (16.5,20) (19,20.1) (21.5,19.9) (24,20) (27,20.3)
(12,22) (14.5,22.1) (17,21.9) (19.5,22) (22,22.1) (24.5,21.9) (28,22.2)
(15,24) (17.5,24.1) (20,23.9) (22.5,24) (25,24.1) (27.5,23.9) (30,24.2)
(18,26) (20.5,26.1) (23,25.9) (25.5,26) (28,26.1) (30.5,25.9) (32,26.3)
(21,28) (23.5,28.1) (26,27.9) (28.5,28) (31,28.1) (33,28.4)
(24,30) (26.5,30.1) (29,29.9) (31.5,30) (34,30.2) (35.5,29.6)
(27,32) (29.5,32.1) (32,31.9) (34.5,32) (36.5,32.3)
(30,34) (32.5,34.1) (35,33.9) (38,34.2)
(32,36) (35,36.2) (38.5,36)
};
\addplot[pts] coordinates {
(1,1) (3,1) (5,1) (7,1) (9,1) (11,1) (13,1) (15,1)
(1,3) (3,3) (5,3) (7,3) (9,3) (11,3) (13,3) (15,3)
(1,5) (3,5) (5,5) (7,5) (9,5) (11,5) (13,5) (15,5)
(1,7) (3,7) (5,7) (7,7) (9,7) (11,7) (13,7) (15,7) (17,7)
(1,9) (3,9) (5,9) (7,9) (9,9) (11,9) (13,9) (15,9) (17,9)
(1,11) (3,11) (5,11) (7,11) (9,11) (11,11) (13,11) (15,11) (17,11) (19,11)
(3,13) (5,13) (7,13) (9,13) (11,13) (13,13) (15,13) (17,13) (19,13) (21,13)
(5,15) (7,15) (9,15) (11,15) (13,15) (15,15) (17,15) (19,15) (21,15) (23,15)
(7,17) (9,17) (11,17) (13,17) (15,17) (17,17) (19,17) (21,17) (23,17)
(9,19) (11,19) (13,19) (15,19) (17,19) (19,19) (21,19) (23,19) (25,19)
(12,21) (14,21) (16,21) (18,21) (20,21) (22,21) (24,21) (26,21)
(15,23) (17,23) (19,23) (21,23) (23,23) (25,23) (27,23)
(18,25) (20,25) (22,25) (24,25) (26,25) (28,25) (30,25)
(21,27) (23,27) (25,27) (27,27) (29,27) (31,27)
(24,29) (26,29) (28,29) (30,29) (32,29)
};
\addplot[refl] coordinates {(-10,-10) (200,200)};
\addplot[refl] coordinates {(32.4,-10) (32.4,200)};
\addplot[refl] coordinates {(-10,31) (200,31)};
\addplot[sm] coordinates {(0.6,0.8) (7.9,7.3) (15.4,15.0) (24.1,22.7) (32.8,30.4) (42.8,39.8) (52.8,50.5) (62.8,61.1) (72.8,71.9) (82.8,83.8) (92.8,95.6) (105.9,107.4)};
\node[ann] at (rel axis cs:0.814,0.165) {tau = 0.69};
\node[ann] at (rel axis cs:0.823,0.086) {rho = 0.80};
\end{axis}
% ---------------- Dallas
\begin{axis}[facet, at={(510.5pt,45pt)}, xmin=-4.3, xmax=94.1, ymin=-4.1, ymax=94.5,
  xtick={0,20,...,100}, ytick={0,20,...,100}, title={Dallas/Fort Worth, TX}]
\addplot[pts] coordinates {
(62.8,83.8) (49.3,80.0) (63.5,78.3) (72.0,73.2) (58.0,66.8) (61.0,67.7) (69.4,66.1) (43.7,65.3) (47.6,64.0) (43.1,59.9) (43.3,58.9) (60.2,57.5) (42.5,55.0) (66.2,55.6) (64.6,54.4) (27.0,55.1) (16.8,51.7) (20.8,52.2) (21.6,49.8) (23.6,49.7) (26.4,47.5) (38.7,52.1) (46.0,52.1) (49.6,50.4) (59.1,50.7) (38.5,49.1) (43.4,48.9) (46.9,48.4) (35.4,46.1) (41.5,46.0) (48.6,46.1) (51.6,45.3) (39.3,45.6) (36.6,44.4) (25.8,42.8) (26.4,41.1) (34.7,41.3) (42.5,43.5) (44.6,43.8) (43.5,41.2) (48.1,40.6) (53.0,38.8) (23.5,39.2) (15.1,36.5) (18.9,35.6) (13.7,35.3) (15.5,35.1) (18.2,34.9) (26.5,38.6) (26.7,36.3) (23.6,34.4) (26.4,34.2) (29.7,36.7) (29.5,34.1) (34.6,37.7) (37.0,38.3) (41.5,33.6) (45.5,31.9) (40.3,30.0) (59.0,33.3) (87.6,35.3) (68.6,28.5) (48.8,25.2) (41.8,26.2) (34.6,27.7) (37.7,27.8) (35.5,25.6) (36.8,25.4) (47.4,19.7) (42.6,14.5) (48.7,14.7) (53.4,14.9) (34.7,16.2) (35.8,13.5) (38.5,12.1) (37.9,10.4) (38.5,7.7) (32.0,15.5) (32.3,18.6) (29.9,12.5) (30.1,10.7) (30.6,7.6) (27.7,8.1) (28.1,12.1) (29.0,17.0) (28.1,18.6) (25.1,20.3) (29.0,22.7) (30.7,25.2) (30.7,28.5) (32.5,30.1) (7.3,27.7) (9.5,28.0) (10.3,26.0) (10.5,23.6) (5.7,22.3) (10.8,30.1) (11.3,32.2) (15.4,31.2) (17.3,27.7) (20.3,30.1) (23.6,29.3) (25.5,31.0) (20.3,25.2) (22.0,23.6) (24.7,25.2) (26.4,28.5) (19.4,5.5) (20.3,0.8) (16.8,0.6) (21.7,2.6) (24.7,3.0) (23.6,4.8) (20.3,7.1) (24.7,9.6) (26.4,13.7) (0.7,17.0) (1.2,14.9) (0.3,10.4)
(0,0) (1.5,0) (3,0) (4.5,0) (6,0) (7.5,0) (9,0) (10.5,0) (12,0) (13.5,0) (15,0) (16.5,0) (18,0.2) (19.5,0.3) (21,0.6)
(0,1.5) (1.5,1.4) (3,1.6) (4.5,1.5) (6,1.4) (7.5,1.6) (9,1.5) (10.5,1.4) (12,1.6) (13.5,1.5) (15,1.4) (16.5,1.6) (18,1.5) (19.8,1.9)
(0,3) (1.5,3.1) (3,2.9) (4.5,3) (6,3.1) (7.5,2.9) (9,3) (10.5,3.1) (12,2.9) (13.5,3) (15,3.1) (16.5,2.9) (18.2,3.2) (20,3.4)
(0,4.5) (1.5,4.4) (3,4.6) (4.5,4.5) (6,4.4) (7.5,4.6) (9,4.5) (10.5,4.4) (12,4.6) (13.5,4.5) (15,4.4) (16.6,4.7) (18.5,4.8)
(0,6) (1.5,6.1) (3,5.9) (4.5,6) (6,6.1) (7.5,5.9) (9,6) (10.5,6.1) (12,5.9) (13.5,6) (15,6.1) (16.6,5.9) (18.3,6.4)
(0,7.5) (1.5,7.4) (3,7.6) (4.5,7.5) (6,7.4) (7.5,7.6) (9,7.5) (10.5,7.4) (12,7.6) (13.5,7.5) (15.1,7.4) (16.8,7.8) (18.6,8.2)
(0,9) (1.5,9.1) (3,8.9) (4.5,9) (6,9.1) (7.5,8.9) (9,9) (10.5,9.1) (12,8.9) (13.5,9) (15.1,9.2) (17,9.1)
(0,10.5) (1.5,10.4) (3,10.6) (4.5,10.5) (6,10.4) (7.5,10.6) (9,10.5) (10.5,10.4) (12,10.6) (13.5,10.5) (15.2,10.4) (17.2,10.8) (19.5,10.6)
(0,12) (1.5,12.1) (3,11.9) (4.5,12) (6,12.1) (7.5,11.9) (9,12) (10.5,12.1) (12,11.9) (13.5,12) (15.2,12.2) (17.5,12.5)
(0,13.5) (1.5,13.4) (3,13.6) (4.5,13.5) (6,13.4) (7.5,13.6) (9,13.5) (10.5,13.4) (12,13.6) (13.6,13.5) (15.4,13.7) (17.8,13.9)
(0.2,15) (1.7,15.1) (3.2,14.9) (4.7,15) (6.2,15.1) (7.7,14.9) (9.2,15) (10.7,15.1) (12.2,14.9) (13.8,15) (15.6,15.2) (18.4,15.5)
(0.4,16.5) (2,16.4) (3.5,16.6) (5,16.5) (6.5,16.4) (8,16.6) (9.5,16.5) (11,16.4) (12.6,16.6) (14.3,16.7) (16.5,16.9)
(0.8,18) (2.4,18.1) (4,17.9) (5.5,18) (7,18.1) (8.5,17.9) (10,18) (11.6,18.1) (13.2,17.9) (15,18.2) (17.3,18.4)
(1.5,19.5) (3.1,19.4) (4.7,19.6) (6.3,19.5) (7.9,19.4) (9.5,19.6) (11.1,19.5) (12.8,19.4) (14.6,19.7) (16.8,19.9) (19,20.2)
(3,21) (5,21.1) (7,20.9) (9,21) (11,21.1) (13,20.9) (15,21) (17.2,21.2) (19.6,21.3)
(4,22.5) (7,22.6) (10,22.4) (13,22.5) (16,22.7) (18.6,22.4) (21.2,22.8)
(5,24) (9,24.1) (12,23.9) (15,24) (18,24.2) (22,24.4)
(7,25.5) (11,25.6) (14.5,25.4) (19,25.7) (23,25.9)
(9,27) (13,27.2) (17,26.9) (21,27.3)
(12,29) (16,29.2) (20,28.8)
};
\addplot[pts] coordinates {
(0.75,0.75) (2.25,0.75) (3.75,0.75) (5.25,0.75) (6.75,0.75) (8.25,0.75) (9.75,0.75) (11.25,0.75) (12.75,0.75) (14.25,0.75) (15.75,0.75) (17.25,0.75) (18.75,0.75)
(0.75,2.25) (2.25,2.25) (3.75,2.25) (5.25,2.25) (6.75,2.25) (8.25,2.25) (9.75,2.25) (11.25,2.25) (12.75,2.25) (14.25,2.25) (15.75,2.25) (17.25,2.25)
(0.75,3.75) (2.25,3.75) (3.75,3.75) (5.25,3.75) (6.75,3.75) (8.25,3.75) (9.75,3.75) (11.25,3.75) (12.75,3.75) (14.25,3.75) (15.75,3.75)
(0.75,5.25) (2.25,5.25) (3.75,5.25) (5.25,5.25) (6.75,5.25) (8.25,5.25) (9.75,5.25) (11.25,5.25) (12.75,5.25) (14.25,5.25) (15.75,5.25)
(0.75,6.75) (2.25,6.75) (3.75,6.75) (5.25,6.75) (6.75,6.75) (8.25,6.75) (9.75,6.75) (11.25,6.75) (12.75,6.75) (14.25,6.75)
(0.75,8.25) (2.25,8.25) (3.75,8.25) (5.25,8.25) (6.75,8.25) (8.25,8.25) (9.75,8.25) (11.25,8.25) (12.75,8.25) (14.25,8.25)
(0.75,9.75) (2.25,9.75) (3.75,9.75) (5.25,9.75) (6.75,9.75) (8.25,9.75) (9.75,9.75) (11.25,9.75) (12.75,9.75) (14.25,9.75)
(0.75,11.25) (2.25,11.25) (3.75,11.25) (5.25,11.25) (6.75,11.25) (8.25,11.25) (9.75,11.25) (11.25,11.25) (12.75,11.25) (14.25,11.25)
(0.75,12.75) (2.25,12.75) (3.75,12.75) (5.25,12.75) (6.75,12.75) (8.25,12.75) (9.75,12.75) (11.25,12.75) (12.75,12.75)
(0.75,14.25) (2.25,14.25) (3.75,14.25) (5.25,14.25) (6.75,14.25) (8.25,14.25) (9.75,14.25) (11.25,14.25) (12.75,14.25)
(2.25,15.75) (3.75,15.75) (5.25,15.75) (6.75,15.75) (8.25,15.75) (9.75,15.75) (11.25,15.75)
(3.75,17.25) (5.25,17.25) (6.75,17.25) (8.25,17.25) (9.75,17.25) (11.25,17.25)
(5.25,18.75) (6.75,18.75) (8.25,18.75) (9.75,18.75)
};
\addplot[refl] coordinates {(-10,-10) (200,200)};
\addplot[refl] coordinates {(32.4,-10) (32.4,200)};
\addplot[refl] coordinates {(-10,31) (200,31)};
\addplot[sm] coordinates {(0.3,0.6) (7.3,6.3) (14.2,12.5) (21.2,18.6) (27.3,24.4) (32.5,29.3) (37.7,35.1) (42.9,40.0) (50.7,45.6) (59.4,51.3) (67.9,57.1) (76.6,63.0) (87.6,70.6)};
\node[ann] at (rel axis cs:0.80,0.205) {tau = 0.64};
\node[ann] at (rel axis cs:0.809,0.123) {rho = 0.77};
\end{axis}
% ---------------- global labels
\node[font=\fontsize{14}{15}\selectfont, rotate=90, align=center] at (21pt,264pt) {Daily precipitation (mm) based\\on NLDAS−2 reanalysis data};
\node[font=\fontsize{14}{16}\selectfont, anchor=base] at (385pt,4pt) {Daily precipitation (mm) based on NOAA monitors};
\end{tikzpicture}
\end{document}
